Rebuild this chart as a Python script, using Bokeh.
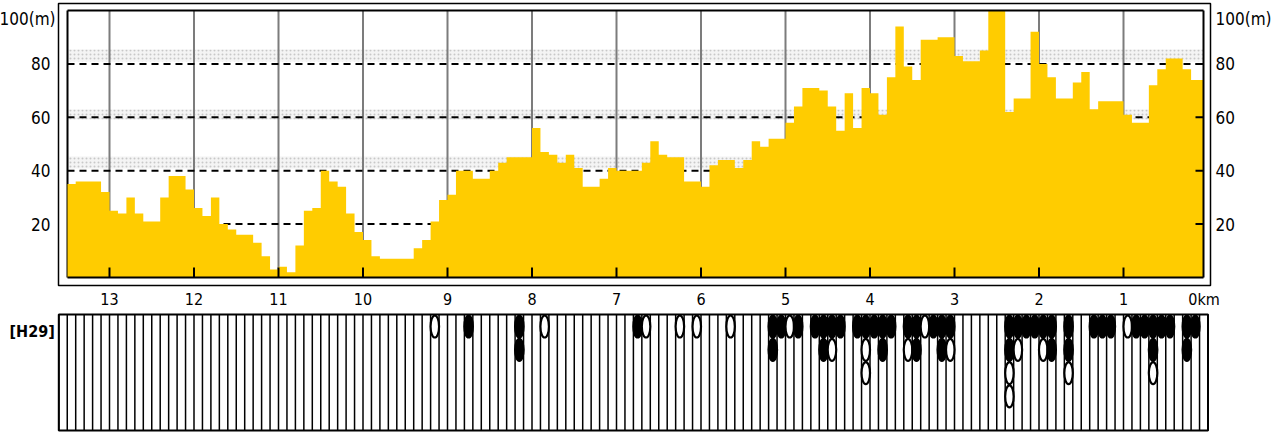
import numpy as np
from bokeh.plotting import figure
from bokeh.models import Range1d
from bokeh.layouts import column
from bokeh.embed import file_html
from bokeh.resources import INLINE
from bokeh.core.properties import value

# ---------------- data ----------------
elev_start_km = 13.5          # profile starts here, one value per 0.1 km toward 0 km
elev_step_km = 0.1
elev_m = [
    35, 36, 36, 36, 32, 25, 24, 30, 24, 21,
    21, 30, 38, 38, 33, 26, 23, 30, 20, 18,
    16, 16, 13, 8, 3, 4, 2, 12, 25, 26,
    40, 36, 34, 24, 17, 14, 8, 7, 7, 7,
    7, 11, 14, 21, 29, 31, 40, 40, 37, 37,
    40, 43, 45, 45, 45, 56, 47, 46, 43, 46,
    41, 34, 34, 37, 41, 40, 40, 40, 43, 51,
    46, 45, 45, 36, 36, 34, 42, 44, 44, 41,
    44, 51, 49, 52, 52, 58, 64, 71, 71, 70,
    64, 55, 69, 56, 71, 69, 61, 75, 94, 79,
    74, 89, 89, 90, 90, 83, 81, 81, 85, 100,
    100, 62, 67, 67, 92, 80, 75, 67, 67, 73,
    77, 63, 66, 66, 66, 61, 58, 58, 72, 78,
    82, 82, 78, 74, 74,
]
km_ticks = [13, 12, 11, 10, 9, 8, 7, 6, 5, 4, 3, 2, 1, 0]
km_labels = ["13", "12", "11", "10", "9", "8", "7", "6", "5", "4", "3", "2", "1", "0km"]
m_ticks = [100, 80, 60, 40, 20]
m_labels = ["100(m)", "80", "60", "40", "20"]
dash_levels = [80, 60, 40, 20]

series_label = "[H29]"
obs_km = [9.15, 8.75, 8.15, 8.15, 7.85, 6.75, 6.65, 6.25, 6.05, 5.65,
          5.15, 5.15, 5.05, 4.95, 4.85, 4.65, 4.55, 4.55, 4.45, 4.45,
          4.35, 4.15, 4.05, 4.05, 4.05, 3.95, 3.85, 3.85, 3.75, 3.55,
          3.55, 3.45, 3.45, 3.35, 3.25, 3.15, 3.15, 3.05, 3.05, 2.35,
          2.35, 2.35, 2.35, 2.25, 2.25, 2.15, 2.05, 1.95, 1.95, 1.85,
          1.85, 1.65, 1.65, 1.65, 1.35, 1.25, 1.15, 0.95, 0.85, 0.75,
          0.65, 0.65, 0.65, 0.55, 0.45, 0.25, 0.25, 0.15]
obs_row = [1, 1, 1, 2, 1, 1, 1, 1, 1, 1,
           1, 2, 1, 1, 1, 1, 1, 2, 1, 2,
           1, 1, 1, 2, 3, 1, 1, 2, 1, 1,
           2, 1, 2, 1, 1, 1, 2, 1, 2, 1,
           2, 3, 4, 1, 2, 1, 1, 1, 2, 1,
           2, 1, 2, 3, 1, 1, 1, 1, 1, 1,
           1, 2, 3, 1, 1, 1, 2, 1]
obs_filled = [0, 1, 1, 1, 0, 1, 0, 0, 0, 0,
              1, 1, 1, 0, 1, 1, 1, 1, 1, 0,
              1, 1, 1, 0, 0, 1, 1, 1, 1, 1,
              0, 1, 1, 0, 1, 1, 1, 1, 0, 1,
              1, 0, 0, 1, 0, 1, 1, 1, 0, 1,
              1, 1, 1, 0, 1, 1, 1, 0, 1, 1,
              1, 1, 0, 1, 1, 1, 1, 1]
cells_km_total = 13.6

# ---------------- geometry (page pixels) ----------------
W, H1, H2 = 1278, 308, 124
PX0, PY0 = 0, 0
X_ZERO, PX_KM = 1207.5, 84.5
Y_ZERO, PX_M = 277.0, 2.67
ROW1_Y, ROW_DY = 326.0, 23.3
FONT = value("DejaVu Sans Condensed")


def km(px):
    return (X_ZERO - px) / PX_KM


def mm(py):
    return (Y_ZERO - py) / PX_M


def row(py):
    return 1 + (py - ROW1_Y) / ROW_DY


def base_fig(h, yr):
    f = figure(width=W, height=h, x_range=Range1d(km(PX0), km(PX0 + W)), y_range=yr,
               output_backend="svg", toolbar_location=None, tools="",
               x_axis_location=None, y_axis_location=None, min_border=0,
               min_border_left=0, min_border_right=0, min_border_top=0, min_border_bottom=0)
    f.outline_line_color = None
    f.background_fill_color = "white"
    f.border_fill_color = "white"
    f.grid.visible = False
    return f


# ---------------- top panel: elevation ----------------
p1 = base_fig(H1, Range1d(mm(PY0 + H1), mm(PY0)))
in_l, in_r = km(67), km(1203)

# faint dotted bands above the dashed levels
band_lo = [mm(168), mm(119), mm(61)]
band_hi = [mm(156), mm(109), mm(49)]
p1.quad(left=in_l, right=in_r, bottom=band_lo, top=band_hi, fill_color="#f4f4f4",
        hatch_pattern="dot", hatch_color="#c8c8c8", hatch_scale=4, line_color=None)

grid_km = [k for k in km_ticks if k > 0]
p1.segment(x0=grid_km, x1=grid_km, y0=0, y1=100, line_color="#7c7c7c", line_width=2)
p1.segment(x0=in_l, x1=in_r, y0=dash_levels, y1=dash_levels, line_color="black",
           line_width=2, line_dash="7 5")
# left inner frame line (below the area)
p1.segment(x0=in_l, x1=in_l, y0=0, y1=100, line_color="black", line_width=2)

# step area
xs, ys = [], []
for i, e in enumerate(elev_m):
    x0 = min(elev_start_km - i * elev_step_km, in_l)
    x1 = max(elev_start_km - (i + 1) * elev_step_km, in_r)
    xs += [x0, x1]
    ys += [e, e]
xs += [xs[-1], xs[0]]
ys += [0, 0]
p1.patch(xs, ys, fill_color="#FFCC00", line_color=None)

# inner frame: top, right, bottom
p1.segment(x0=[in_l, in_r, in_l], x1=[in_r, in_r, in_r], y0=[100, 0, 0], y1=[100, 100, 0],
           line_color="black", line_width=2)
# bottom ticks and right ticks
p1.segment(x0=grid_km, x1=grid_km, y0=0, y1=mm(267), line_color="black", line_width=2)
p1.segment(x0=in_r, x1=in_r + 8 / PX_KM, y0=dash_levels, y1=dash_levels,
           line_color="black", line_width=2)
# outer frame
p1.quad(left=km(58), right=km(1210), bottom=mm(285), top=mm(3), fill_color=None,
        line_color="black", line_width=1.5)

# axis labels
lab_y = [mm(18) if t == 100 else t for t in m_ticks]
lab_dx = [5 if t == 100 else 0 for t in m_ticks]
p1.text(x=km(50), y=lab_y, text=m_labels, x_offset=lab_dx, text_font=FONT,
        text_font_size="17px", text_align="right", text_baseline="middle", text_color="black")
p1.text(x=km(1215), y=lab_y, text=m_labels, text_font=FONT, text_font_size="17px",
        text_align="left", text_baseline="middle", text_color="black")
kdx = [-4 if k == 0 else 0 for k in km_ticks]
p1.text(x=km_ticks, y=mm(298.5), text=km_labels, x_offset=kdx, text_font=FONT,
        text_font_size="16px", text_align="center", text_baseline="middle", text_color="black")

# ---------------- bottom panel: observations ----------------
p2 = base_fig(H2, Range1d(row(PY0 + H1 + H2), row(PY0 + H1)))
top_r, bot_r = row(314), row(430)
cell_edges = np.round(np.arange(0, cells_km_total + 0.05, 0.1), 1)
p2.segment(x0=cell_edges, x1=cell_edges, y0=top_r, y1=bot_r, line_color="black", line_width=1.5)
p2.quad(left=cells_km_total, right=0, top=top_r, bottom=bot_r, fill_color=None,
        line_color="black", line_width=2)
fills = ["black" if f else "white" for f in obs_filled]
p2.ellipse(x=obs_km, y=obs_row, width=8.5 / PX_KM, height=22 / ROW_DY, fill_color=fills,
           line_color="black", line_width=2.2)
p2.text(x=km(9), y=row(331), text=[series_label], text_font=FONT, text_font_size="16px",
        text_font_style="bold", text_align="left", text_baseline="middle", text_color="black")

layout = column(p1, p2, spacing=0)
open("out.html", "w").write(file_html(layout, INLINE))
